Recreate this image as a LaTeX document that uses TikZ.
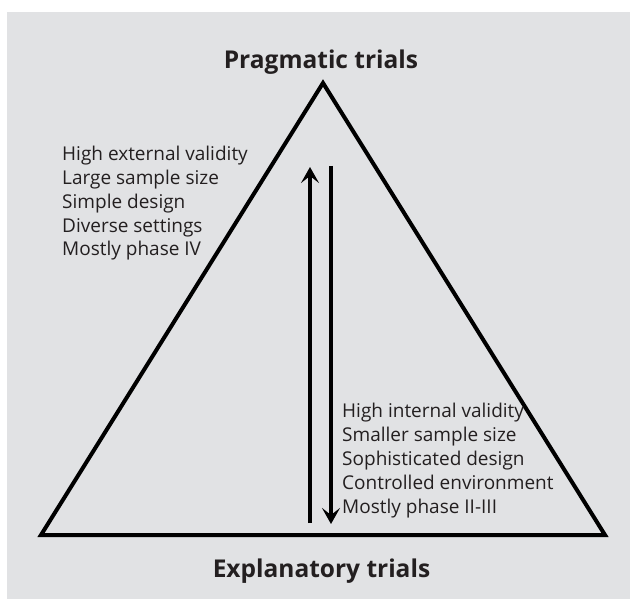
\documentclass[tikz,border=0pt]{standalone}
\usepackage{fontspec}
\setmainfont{Open Sans}
\usetikzlibrary{arrows.meta}
\definecolor{bg}{HTML}{E1E2E4}
\definecolor{txt}{HTML}{231F20}
\tikzset{
  edge/.style={line width=4pt, line join=miter},
  flow/.style={line width=4.8pt, -{Stealth[length=16pt,width=18pt,inset=7pt]}},
  title/.style={font=\bfseries\fontsize{24.5}{28}\selectfont, text=txt, inner sep=0pt},
  list/.style={font=\fontsize{19}{23.8}\selectfont, text=txt, align=left, inner sep=0pt}
}
\begin{document}
\begin{tikzpicture}[x=1pt,y=-1pt]
\useasboundingbox (0,0) rectangle (630,599);
\fill[white] (0,0) rectangle (630,599);
\fill[bg] (7,12) rectangle (630,599);
\coordinate (apex) at (323,83);
\coordinate (bl) at (41,535);
\coordinate (br) at (605,535);
\draw[edge] (bl) -- (apex) -- (br) -- cycle;
\node[title, anchor=base] (prag) at (321,69) {Pragmatic trials};
\node[title, anchor=base] (expl) at (321.5,577) {Explanatory trials};
\coordinate (upS) at (310,523);
\coordinate (upE) at (310,167);
\coordinate (dnS) at (331,166);
\coordinate (dnE) at (331,524);
\draw[flow] (upS) -- (upE);
\draw[flow] (dnS) -- (dnE);
\node[list, anchor=base west] (left) at (62,256) {High external validity\\Large sample size\\Simple design\\Diverse settings\\Mostly phase IV};
\node[list, anchor=base west] (right) at (342,513) {High internal validity\\Smaller sample size\\Sophisticated design\\Controlled environment\\Mostly phase II-III};
\end{tikzpicture}
\end{document}
